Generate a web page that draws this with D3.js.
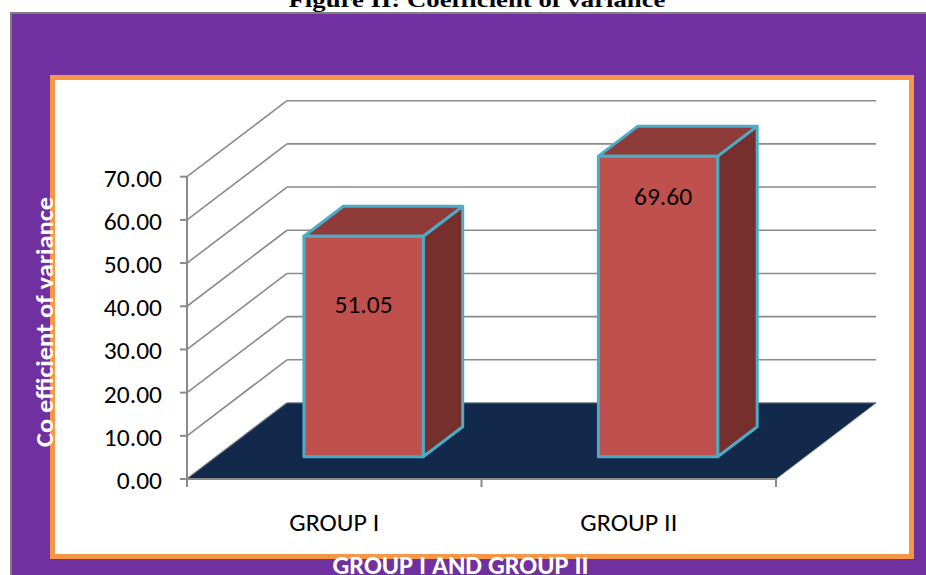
<!DOCTYPE html>
<html>
<head>
<meta charset="utf-8">
<script src="https://cdn.jsdelivr.net/npm/d3@7"></script>
<style>
  html, body { margin: 0; padding: 0; background: #ffffff; overflow: hidden; }
  svg { display: block; }
</style>
</head>
<body>
<svg id="chart" width="926" height="575"></svg>
<script>
// ---- data ----
const categories = ["GROUP I", "GROUP II"];
const values = [51.05, 69.60];
const yTicks = [0, 10, 20, 30, 40, 50, 60, 70];
const chartTitle = "Figure II: Coefficient of variance";
const yAxisTitle = "Co efficient of variance";
const xAxisTitle = "GROUP I AND GROUP II";

// ---- layout ----
const W = 926, H = 575;
const svg = d3.select("#chart");
const fmt = d3.format(".2f");
const bodyFont = "Carlito, Lato, 'Open Sans', sans-serif";

const x = d3.scaleBand().domain(categories).range([187, 776]).paddingInner(0).paddingOuter(0);
const y = d3.scaleLinear().domain([0, 70]).range([479, 176.7]);
const DX = 100, DY = -76;                 // full floor depth offset
const proj = (px, z, v) => [px + z * DX, y(v) + z * DY];

// page title (clipped at top, as in the source)
svg.append("text")
  .attr("x", 477).attr("y", 7)
  .attr("text-anchor", "middle")
  .attr("font-family", "'Liberation Serif', 'Times New Roman', serif")
  .attr("font-weight", "bold").attr("font-size", 22)
  .attr("textLength", 377).attr("lengthAdjust", "spacingAndGlyphs")
  .attr("fill", "#000").text(chartTitle);

// purple chart area with gray border
svg.append("rect").attr("x", 11).attr("y", 13).attr("width", W + 20).attr("height", H + 20)
  .attr("fill", "#7030A0").attr("stroke", "#808080").attr("stroke-width", 2);

// orange-framed plot area
svg.append("rect").attr("x", 52.5).attr("y", 77.5).attr("width", 859).attr("height", 479)
  .attr("fill", "#ffffff").attr("stroke", "#F79646").attr("stroke-width", 5);

const grid = svg.append("g").attr("stroke", "#8a8a8a").attr("stroke-width", 1.6).attr("fill", "none");
yTicks.forEach(v => {
  const a = proj(x.range()[0], 1, v), b = proj(x.range()[1], 1, v);
  grid.append("line").attr("x1", a[0]).attr("y1", a[1]).attr("x2", b[0]).attr("y2", b[1]);
  const c = proj(x.range()[0], 0, v);
  grid.append("line").attr("x1", c[0]).attr("y1", c[1]).attr("x2", a[0]).attr("y2", a[1]);
});

// floor
const f0 = proj(x.range()[0], 0, 0), f1 = proj(x.range()[1], 0, 0),
      f2 = proj(x.range()[1], 1, 0), f3 = proj(x.range()[0], 1, 0);
svg.append("polygon")
  .attr("points", [f0, f1, f2, f3].map(p => p.join(",")).join(" "))
  .attr("fill", "#13294B").attr("stroke", "#6d7d92").attr("stroke-width", 0.8);

// y axis
const axisG = svg.append("g").attr("stroke", "#8a8a8a").attr("stroke-width", 2).attr("fill", "none");
axisG.append("line").attr("x1", x.range()[0]).attr("x2", x.range()[0])
  .attr("y1", y(0)).attr("y2", y(70));
yTicks.forEach(v => {
  axisG.append("line").attr("x1", x.range()[0] - 7).attr("x2", x.range()[0])
    .attr("y1", y(v)).attr("y2", y(v));
});
// x axis
axisG.append("line").attr("x1", x.range()[0]).attr("x2", x.range()[1])
  .attr("y1", y(0)).attr("y2", y(0));
[x.range()[0], ...categories.map(c => x(c) + x.bandwidth())].forEach(px => {
  axisG.append("line").attr("x1", px).attr("x2", px).attr("y1", y(0)).attr("y2", y(0) + 8);
});

// y tick labels
svg.append("g").selectAll("text").data(yTicks).join("text")
  .attr("x", 162).attr("y", d => y(d) + 10)
  .attr("text-anchor", "end")
  .attr("font-family", bodyFont).attr("font-size", 25.5).attr("fill", "#000")
  .text(d => fmt(d));

// category labels
svg.append("g").selectAll("text").data(categories).join("text")
  .attr("x", d => x(d) + x.bandwidth() / 2).attr("y", 531)
  .attr("text-anchor", "middle")
  .attr("font-family", bodyFont).attr("font-size", 25).attr("fill", "#000")
  .attr("textLength", (d, i) => i === 0 ? 90 : 97).attr("lengthAdjust", "spacingAndGlyphs")
  .text(d => d);

// 3D bars
const barFrac = 0.405, z0 = 0.293, z1 = 0.688;
const bars = svg.append("g").attr("stroke", "#4BACC6").attr("stroke-width", 3).attr("stroke-linejoin", "round");
categories.forEach((c, i) => {
  const v = values[i];
  const cx = x(c) + x.bandwidth() / 2;
  const hw = x.bandwidth() * barFrac / 2;
  const L = cx - hw, R = cx + hw;
  const pts = arr => arr.map(p => p.join(",")).join(" ");
  bars.append("polygon").attr("fill", "#772F2D")
    .attr("points", pts([proj(R, z0, 0), proj(R, z1, 0), proj(R, z1, v), proj(R, z0, v)]));
  bars.append("polygon").attr("fill", "#8E3B39")
    .attr("points", pts([proj(L, z0, v), proj(R, z0, v), proj(R, z1, v), proj(L, z1, v)]));
  bars.append("polygon").attr("fill", "#C0504D")
    .attr("points", pts([proj(L, z0, 0), proj(R, z0, 0), proj(R, z0, v), proj(L, z0, v)]));
  const inset = i === 0 ? 76.5 : 49;
  const top = proj(cx, z0, v);
  svg.append("text")
    .attr("x", top[0] + (i === 0 ? 0 : 5)).attr("y", top[1] + inset)
    .attr("text-anchor", "middle")
    .attr("font-family", bodyFont).attr("font-size", 25.5).attr("fill", "#000")
    .text(fmt(v));
});

// axis titles (white, bold)
svg.append("text")
  .attr("transform", "translate(53,322) rotate(-90)")
  .attr("text-anchor", "middle")
  .attr("font-family", bodyFont).attr("font-weight", "bold").attr("font-size", 24)
  .attr("textLength", 250).attr("lengthAdjust", "spacingAndGlyphs")
  .attr("fill", "#ffffff").text(yAxisTitle);

svg.append("text")
  .attr("x", 460.5).attr("y", 574)
  .attr("text-anchor", "middle")
  .attr("font-family", bodyFont).attr("font-weight", "bold").attr("font-size", 26)
  .attr("textLength", 256).attr("lengthAdjust", "spacingAndGlyphs")
  .attr("fill", "#ffffff").text(xAxisTitle);
</script>
</body>
</html>
